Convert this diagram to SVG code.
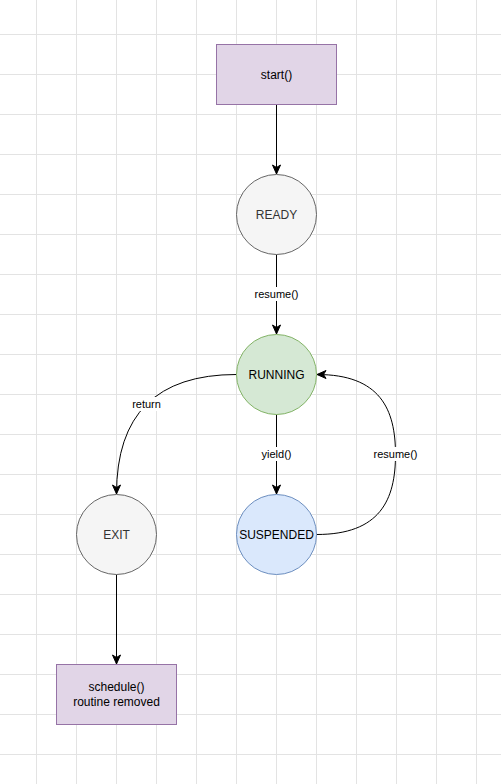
<svg xmlns="http://www.w3.org/2000/svg" width="501" height="784" viewBox="0 0 501 784">
<defs>
<style>
.grid line{stroke:#e3e3e3;stroke-width:1}
.lbl{font-family:"Liberation Sans",Arial,Helvetica,sans-serif;font-size:12px;text-anchor:middle;dominant-baseline:central}
.elbl{font-family:"Liberation Sans",Arial,Helvetica,sans-serif;font-size:11px;text-anchor:middle;dominant-baseline:central;fill:#000}
.edge{fill:none;stroke:#000;stroke-width:1;marker-end:url(#arr)}
.lblbg{fill:#fff}
</style>
<marker id="arr" viewBox="-10 -5 11 10" refX="0" refY="0" markerWidth="11" markerHeight="10" markerUnits="userSpaceOnUse" orient="auto">
<path d="M0,0 L-9,-4 L-6.5,0 L-9,4 Z" fill="#000" stroke="#000" stroke-width="1" stroke-linejoin="miter"/>
</marker>
</defs>
<rect width="501" height="784" fill="#ffffff"/>
<g class="grid">
<line x1="36.5" y1="0" x2="36.5" y2="784"/><line x1="76.5" y1="0" x2="76.5" y2="784"/><line x1="116.5" y1="0" x2="116.5" y2="784"/><line x1="156.5" y1="0" x2="156.5" y2="784"/><line x1="196.5" y1="0" x2="196.5" y2="784"/><line x1="236.5" y1="0" x2="236.5" y2="784"/><line x1="276.5" y1="0" x2="276.5" y2="784"/><line x1="316.5" y1="0" x2="316.5" y2="784"/><line x1="356.5" y1="0" x2="356.5" y2="784"/><line x1="396.5" y1="0" x2="396.5" y2="784"/><line x1="436.5" y1="0" x2="436.5" y2="784"/><line x1="476.5" y1="0" x2="476.5" y2="784"/>
<line x1="0" y1="34.5" x2="501" y2="34.5"/><line x1="0" y1="74.5" x2="501" y2="74.5"/><line x1="0" y1="114.5" x2="501" y2="114.5"/><line x1="0" y1="154.5" x2="501" y2="154.5"/><line x1="0" y1="194.5" x2="501" y2="194.5"/><line x1="0" y1="234.5" x2="501" y2="234.5"/><line x1="0" y1="274.5" x2="501" y2="274.5"/><line x1="0" y1="314.5" x2="501" y2="314.5"/><line x1="0" y1="354.5" x2="501" y2="354.5"/><line x1="0" y1="394.5" x2="501" y2="394.5"/><line x1="0" y1="434.5" x2="501" y2="434.5"/><line x1="0" y1="474.5" x2="501" y2="474.5"/><line x1="0" y1="514.5" x2="501" y2="514.5"/><line x1="0" y1="554.5" x2="501" y2="554.5"/><line x1="0" y1="594.5" x2="501" y2="594.5"/><line x1="0" y1="634.5" x2="501" y2="634.5"/><line x1="0" y1="674.5" x2="501" y2="674.5"/><line x1="0" y1="714.5" x2="501" y2="714.5"/><line x1="0" y1="754.5" x2="501" y2="754.5"/>
</g>
<g id="connectors">
<g id="e-start-ready"><path class="edge" d="M276.5,104.5 L276.5,174"/></g>
<g id="e-ready-running"><path class="edge" d="M276.5,254.5 L276.5,334"/>
<rect class="lblbg" x="252" y="287" width="49" height="14"/><text class="elbl" x="276.5" y="294">resume()</text></g>
<g id="e-running-exit"><path class="edge" d="M236.5,374.5 Q116.5,374.5 116.5,494"/>
<rect class="lblbg" x="131" y="397" width="31" height="14"/><text class="elbl" x="146.5" y="404">return</text></g>
<g id="e-running-suspended"><path class="edge" d="M276.5,414.5 L276.5,494"/>
<rect class="lblbg" x="259" y="447" width="35" height="14"/><text class="elbl" x="276.5" y="454">yield()</text></g>
<g id="e-suspended-running"><path class="edge" d="M316.5,534.5 C380,534.5 395.5,500 395.5,454.5 C395.5,409 380,374.5 317,374.5"/>
<rect class="lblbg" x="371" y="447" width="49" height="14"/><text class="elbl" x="395.5" y="454">resume()</text></g>
<g id="e-exit-schedule"><path class="edge" d="M116.5,574.5 L116.5,664"/></g>
</g>
<g id="start">
<rect x="216.5" y="44.5" width="120" height="60" fill="#e1d5e7" stroke="#9673a6"/>
<text class="lbl" x="276.5" y="74.5" fill="#000">start()</text>
</g>
<g id="ready">
<circle cx="276.5" cy="214.5" r="40" fill="#f5f5f5" stroke="#666666"/>
<text class="lbl" x="276.5" y="214.5" fill="#333333">READY</text>
</g>
<g id="running">
<circle cx="276.5" cy="374.5" r="40" fill="#d5e8d4" stroke="#82b366"/>
<text class="lbl" x="276.5" y="374.5" fill="#000">RUNNING</text>
</g>
<g id="exit">
<circle cx="116.5" cy="534.5" r="40" fill="#f5f5f5" stroke="#666666"/>
<text class="lbl" x="116.5" y="534.5" fill="#333333">EXIT</text>
</g>
<g id="suspended">
<circle cx="276.5" cy="534.5" r="40" fill="#dae8fc" stroke="#6c8ebf"/>
<text class="lbl" x="276.5" y="534.5" fill="#000">SUSPENDED</text>
</g>
<g id="schedule">
<rect x="56.5" y="664.5" width="120" height="60" fill="#e1d5e7" stroke="#9673a6"/>
<text class="lbl" x="116.5" y="687" fill="#000">schedule()</text>
<text class="lbl" x="116.5" y="702" fill="#000">routine removed</text>
</g>
</svg>
